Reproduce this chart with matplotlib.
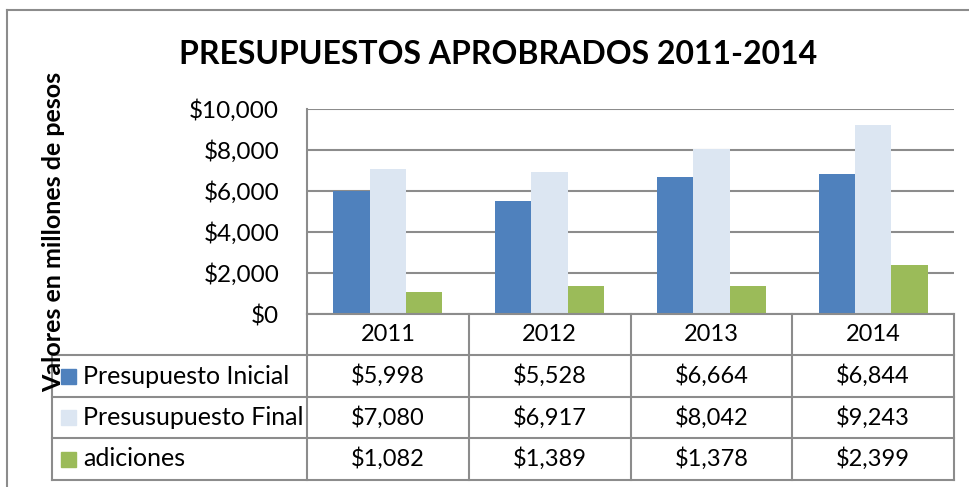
import numpy as np
import matplotlib
matplotlib.use("Agg")
import matplotlib.pyplot as plt
from matplotlib import transforms

# datos
anios = ["2011", "2012", "2013", "2014"]
series = ["Presupuesto Inicial", "Presusupuesto Final", "adiciones"]
inicial = [5998, 5528, 6664, 6844]
final = [7080, 6917, 8042, 9243]
adiciones = [1082, 1389, 1378, 2399]
colores = ["#4F81BD", "#DCE6F2", "#9BBB59"]
yticks = [0, 2000, 4000, 6000, 8000, 10000]

plt.rcParams['font.family'] = ['Lato', 'DejaVu Sans']
gris = "#8C8C8C"

W, H = 969, 487
fig = plt.figure(figsize=(W / 100, H / 100), dpi=100)

# eje de las barras (en pixeles de la figura)
x0, x1, ytop, ybot = 307, 954, 109, 314
ax = fig.add_axes([x0 / W, 1 - ybot / H, (x1 - x0) / W, (ybot - ytop) / H])

valores = [inicial, final, adiciones]
x = np.arange(len(anios))
ancho = 0.225
for i, (nombre, vals) in enumerate(zip(series, valores)):
    ax.bar(x + (i - 1) * ancho, vals, ancho, color=colores[i], label=nombre, zorder=3)

ax.set_xlim(-0.5, len(anios) - 0.5)
ax.set_ylim(0, 10000)
ax.set_yticks(yticks)
ax.set_yticklabels([f"${v:,}" for v in yticks], fontsize=17.5)
ax.set_xticks([])
ax.tick_params(axis='y', length=0, pad=20)
ax.grid(axis='y', color=gris, linewidth=1.5, zorder=0)
for s in ['top', 'right', 'bottom']:
    ax.spines[s].set_visible(False)
ax.spines['left'].set_color(gris)
ax.spines['left'].set_linewidth(1.5)

# capa superpuesta en pixeles para tabla, titulo y marco
ov = fig.add_axes([0, 0, 1, 1], zorder=5)
ov.set_xlim(0, W)
ov.set_ylim(H, 0)
ov.axis('off')
ov.patch.set_alpha(0)

# marco exterior
ov.plot([7, 7], [H, 10], color=gris, lw=1.5)
ov.plot([7, W], [10, 10], color=gris, lw=1.5)

ov.text(498, 55, "PRESUPUESTOS APROBRADOS 2011-2014", ha='center', va='center',
        fontsize=23, fontweight='bold')
ov.text(54, 232, "Valores en millones de pesos", rotation=90, ha='center', va='center',
        fontsize=18, fontweight='bold')

# tabla de datos
filas = [314, 355, 397, 438, 480]
bt = transforms.blended_transform_factory(ax.transData, ov.transData)
for k in range(len(anios) + 1):
    ov.plot([k - 0.5, k - 0.5], [filas[0], filas[-1]], color=gris, lw=1.5, transform=bt)
ov.plot([-0.5, len(anios) - 0.5], [filas[0], filas[0]], color=gris, lw=1.5, transform=bt)
for yy in filas[1:]:
    ov.plot([52, x1], [yy, yy], color=gris, lw=1.5)
ov.plot([52, 52], [filas[1], filas[-1]], color=gris, lw=1.5)

for j, a in enumerate(anios):
    ov.text(j, (filas[0] + filas[1]) / 2, a, ha='center', va='center', fontsize=17, transform=bt)

for i, (nombre, vals) in enumerate(zip(series, valores)):
    yc = (filas[i + 1] + filas[i + 2]) / 2
    ov.add_patch(plt.Rectangle((61, yc - 7.5), 15, 15, color=colores[i]))
    ov.text(83, yc, nombre, ha='left', va='center', fontsize=18)
    for j, v in enumerate(vals):
        ov.text(j, yc, f"${v:,}", ha='center', va='center', fontsize=17, transform=bt)

fig.savefig("out.png", dpi=100)
